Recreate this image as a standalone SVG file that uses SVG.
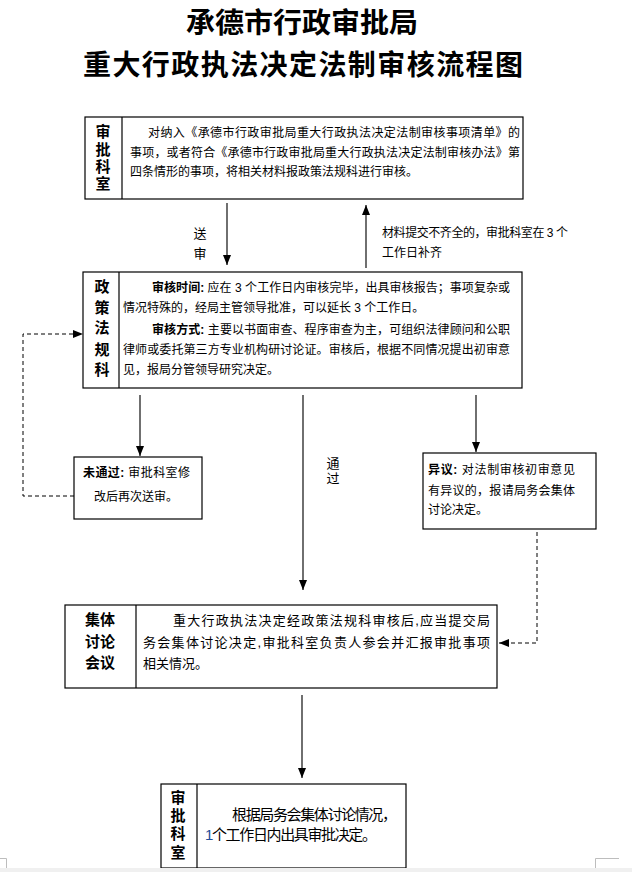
<svg xmlns="http://www.w3.org/2000/svg" width="632" height="872" viewBox="0 0 632 872">
<style>
text{font-family:"Liberation Sans","Noto Sans CJK SC",sans-serif;fill:#000}
.t{font-size:12px}
.t13{font-size:13px}
.t15{font-size:15px}
.b{font-weight:bold}
.title{font-size:28px;font-weight:bold}
.lbl{font-size:15px;font-weight:bold}
.box{fill:#fff;stroke:#000;stroke-width:1.2}
.div{stroke:#000;stroke-width:1.2}
.ar{stroke:#222;stroke-width:1.3;fill:none}
.dash{stroke:#000;stroke-width:1;fill:none;stroke-dasharray:4 3}
.mark{stroke:#bdbdbd;stroke-width:1;fill:none}
</style>
<defs>
<marker id="ah" markerUnits="userSpaceOnUse" markerWidth="10" markerHeight="10" viewBox="0 0 10 10" refX="10" refY="5" orient="auto">
<path d="M0,1 L10,5 L0,9 Z" fill="#000"/>
</marker>
</defs>
<rect width="632" height="872" fill="#fff"/>
<g id="title">
<text class="title" x="186" y="33" textLength="232" lengthAdjust="spacingAndGlyphs">承德市行政审批局</text>
<text class="title" x="83" y="75" textLength="440" lengthAdjust="spacing">重大行政执法决定法制审核流程图</text>
</g>
<g id="connectors">
<line class="ar" x1="227" y1="203" x2="227" y2="265" marker-end="url(#ah)"/>
<line class="ar" x1="366" y1="268" x2="366" y2="205" marker-end="url(#ah)"/>
<line class="ar" x1="140" y1="395" x2="140" y2="456" marker-end="url(#ah)"/>
<line class="ar" x1="303" y1="395" x2="303" y2="590" marker-end="url(#ah)"/>
<line class="ar" x1="476" y1="395" x2="476" y2="452" marker-end="url(#ah)"/>
<line class="ar" x1="302" y1="695" x2="302" y2="778" marker-end="url(#ah)"/>
<polyline class="dash" points="74,496 23,496 23,334 83,334" marker-end="url(#ah)"/>
<polyline class="dash" points="537,532 537,643 499,643" marker-end="url(#ah)"/>
<text class="t13" x="200" y="238" text-anchor="middle">送</text>
<text class="t13" x="200" y="258" text-anchor="middle">审</text>
<text class="t" x="382" y="237" textLength="186" lengthAdjust="spacing">材料提交不齐全的，审批科室在 3 个</text>
<text class="t" x="382" y="257">工作日补齐</text>
<text class="t13" x="333" y="468" text-anchor="middle">通</text>
<text class="t13" x="333" y="483" text-anchor="middle">过</text>
</g>
<g id="node-shenpi1">
<rect class="box" x="85" y="117" width="438" height="82"/>
<line class="div" x1="122" y1="117" x2="122" y2="199"/>
<text class="lbl" x="103" y="137" text-anchor="middle">审</text>
<text class="lbl" x="103" y="155" text-anchor="middle">批</text>
<text class="lbl" x="103" y="172" text-anchor="middle">科</text>
<text class="lbl" x="103" y="189" text-anchor="middle">室</text>
<text class="t" x="148" y="137" textLength="372" lengthAdjust="spacing">对纳入《承德市行政审批局重大行政执法决定法制审核事项清单》的</text>
<text class="t" x="130" y="157" textLength="390" lengthAdjust="spacing">事项，或者符合《承德市行政审批局重大行政执法决定法制审核办法》第</text>
<text class="t" x="130" y="176">四条情形的事项，将相关材料报政策法规科进行审核。</text>
</g>
<g id="node-zhengce">
<rect class="box" x="83" y="272" width="439" height="116"/>
<line class="div" x1="119" y1="272" x2="119" y2="388"/>
<text class="lbl" x="102" y="292" text-anchor="middle">政</text>
<text class="lbl" x="102" y="313" text-anchor="middle">策</text>
<text class="lbl" x="102" y="333" text-anchor="middle">法</text>
<text class="lbl" x="102" y="355" text-anchor="middle">规</text>
<text class="lbl" x="102" y="375" text-anchor="middle">科</text>
<text class="t" x="152" y="292" textLength="358" lengthAdjust="spacing"><tspan class="b">审核时间:</tspan> 应在 3 个工作日内审核完毕，出具审核报告；事项复杂或</text>
<text class="t" x="123" y="312">情况特殊的，经局主管领导批准，可以延长 3 个工作日。</text>
<text class="t" x="152" y="334" textLength="358" lengthAdjust="spacing"><tspan class="b">审核方式:</tspan> 主要以书面审查、程序审查为主，可组织法律顾问和公职</text>
<text class="t" x="123" y="354" textLength="387" lengthAdjust="spacing">律师或委托第三方专业机构研讨论证。审核后，根据不同情况提出初审意</text>
<text class="t" x="123" y="374">见，报局分管领导研究决定。</text>
</g>
<g id="node-weitongguo">
<rect class="box" x="74" y="457" width="128" height="62"/>
<text class="t" x="83" y="477" textLength="107" lengthAdjust="spacing"><tspan class="b">未通过:</tspan> 审批科室修</text>
<text class="t" x="94" y="501">改后再次送审。</text>
</g>
<g id="node-yiyi">
<rect class="box" x="423" y="453" width="173" height="76"/>
<text class="t" x="428" y="474" textLength="147" lengthAdjust="spacing"><tspan class="b">异议:</tspan> 对法制审核初审意见</text>
<text class="t" x="428" y="495" textLength="147" lengthAdjust="spacing">有异议的，报请局务会集体</text>
<text class="t" x="428" y="514">讨论决定。</text>
</g>
<g id="node-jiti">
<rect class="box" x="65" y="605" width="432" height="83"/>
<line class="div" x1="136" y1="605" x2="136" y2="688"/>
<text class="lbl" x="100" y="625" text-anchor="middle" font-size="14">集体</text>
<text class="lbl" x="100" y="647" text-anchor="middle" font-size="14">讨论</text>
<text class="lbl" x="100" y="668" text-anchor="middle" font-size="14">会议</text>
<text class="t13" x="173" y="625" textLength="317" lengthAdjust="spacing">重大行政执法决定经政策法规科审核后,应当提交局</text>
<text class="t13" x="143" y="647" textLength="347" lengthAdjust="spacing">务会集体讨论决定,审批科室负责人参会并汇报审批事项</text>
<text class="t13" x="143" y="668">相关情况。</text>
</g>
<g id="node-shenpi2">
<rect class="box" x="161" y="784" width="245" height="84"/>
<line class="div" x1="197" y1="784" x2="197" y2="868"/>
<text class="lbl" x="178" y="803" text-anchor="middle">审</text>
<text class="lbl" x="178" y="821" text-anchor="middle">批</text>
<text class="lbl" x="178" y="839" text-anchor="middle">科</text>
<text class="lbl" x="178" y="858" text-anchor="middle">室</text>
<text class="t15" x="232" y="820" textLength="165" lengthAdjust="spacing">根据局务会集体讨论情况，</text>
<text class="t15" x="205" y="840" textLength="172" lengthAdjust="spacing"><tspan fill="#1f4e9a">1</tspan>个工作日内出具审批决定。</text>
</g>
<g id="page-edge">
<rect x="0" y="868" width="632" height="4" fill="#f0f0f0"/>
<polyline class="mark" points="0,858.5 6.5,858.5 6.5,868"/>
<polyline class="mark" points="595.5,868 595.5,858.5 619,858.5"/>
</g>
</svg>
